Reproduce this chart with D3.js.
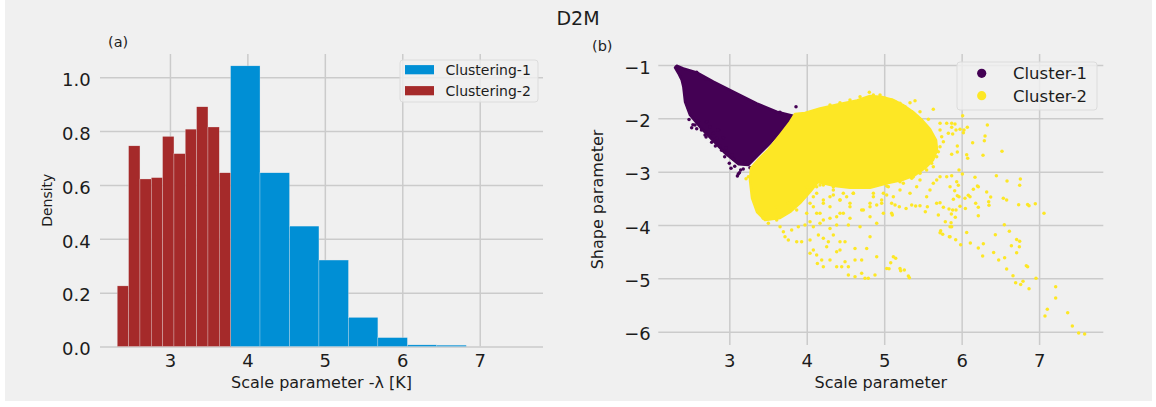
<!DOCTYPE html>
<html>
<head>
<meta charset="utf-8">
<script src="https://cdn.jsdelivr.net/npm/d3@7"></script>
<style>
  body { margin: 0; background: #ffffff; }
  text { font-family: "DejaVu Sans", sans-serif; }
</style>
</head>
<body>
<script>
// ---- Panel (a): histogram of the scale parameter per clustering ----
const clustering2Edges = [2.320, 2.466, 2.613, 2.759, 2.905, 3.052, 3.198, 3.344, 3.491, 3.637, 3.783];
const clustering2Density = [0.225, 0.745, 0.622, 0.627, 0.780, 0.716, 0.807, 0.890, 0.815, 0.645];
const clustering1Edges = [3.783, 4.163, 4.544, 4.924, 5.305, 5.685, 6.066, 6.446, 6.826];
const clustering1Density = [1.042, 0.645, 0.447, 0.321, 0.108, 0.033, 0.006, 0.005];

const scaleTicks = [3, 4, 5, 6, 7];
const densityTicks = [0.0, 0.2, 0.4, 0.6, 0.8, 1.0];
const shapeTicks = [-1, -2, -3, -4, -5, -6];

// ---- Panel (b): scale vs shape parameter, two clusters ----
// dense cores of each cluster (outline of the solid region)
const cluster1Core = [
  [2.320,-1.013],[2.406,-1.063],[2.578,-1.138],[2.794,-1.313],[3.095,-1.531],[3.353,-1.719],
  [3.611,-1.875],[3.835,-1.956],[3.697,-2.188],[3.525,-2.469],[3.353,-2.719],[3.245,-2.875],
  [3.120,-2.860],[2.950,-2.660],[2.790,-2.420],[2.643,-2.200],[2.492,-1.938],[2.428,-1.688],
  [2.406,-1.406],[2.385,-1.281],[2.342,-1.156],[2.299,-1.050]
];
const cluster1Points = [
  [2.557,-2.125],[2.514,-2.175],[2.707,-2.063],[2.750,-2.156],[2.686,-2.313],[2.794,-2.281],
  [2.772,-2.450],[2.837,-2.375],[2.880,-2.513],[2.957,-2.563],[2.974,-2.656],[3.030,-2.688],
  [3.052,-2.763],[3.000,-2.844],[3.146,-2.969],[3.116,-3.044],[3.022,-2.938],[2.664,-1.238],
  [2.699,-1.269],[3.331,-1.738],[3.654,-1.888],[3.861,-1.781],[2.858,-2.219],[2.923,-2.363],
  [3.202,-2.825],[3.267,-2.925],[2.579,-2.194],[3.130,-3.019],[3.104,-3.081],[2.579,-1.137],
  [2.530,-2.120],[2.640,-2.220],[2.700,-2.350],[2.820,-2.520],[2.900,-2.600],[2.940,-2.720],
  [3.070,-2.900],[3.180,-2.950],[2.600,-2.060],[2.480,-2.020]
];
const cluster2Core = [
  [3.848,-1.919],[3.977,-1.900],[4.171,-1.816],[4.429,-1.731],[4.649,-1.666],[4.817,-1.581],
  [4.972,-1.600],[5.114,-1.656],[5.243,-1.750],[5.372,-1.881],[5.488,-2.031],[5.591,-2.200],
  [5.669,-2.406],[5.682,-2.594],[5.630,-2.781],[5.527,-2.931],[5.398,-3.063],[5.230,-3.156],
  [5.049,-3.213],[4.817,-3.300],[4.558,-3.300],[4.365,-3.270],[4.145,-3.194],[4.042,-3.381],
  [3.913,-3.588],[3.784,-3.756],[3.655,-3.869],[3.461,-3.906],[3.358,-3.756],[3.293,-3.494],
  [3.267,-3.156],[3.280,-2.931],[3.371,-2.781],[3.500,-2.594],[3.655,-2.313],[3.784,-2.069]
];
const cluster2Points = [
  [3.439,-3.875],[3.504,-3.969],[3.655,-4.031],[3.698,-4.125],[3.719,-4.219],[3.762,-4.281],
  [3.870,-4.313],[3.934,-4.313],[3.805,-4.094],[3.891,-4.031],[3.977,-4.000],[4.042,-3.938],
  [4.085,-4.031],[4.171,-3.969],[4.214,-3.906],[4.300,-3.875],[4.386,-3.844],[4.472,-3.781],
  [4.558,-3.875],[4.042,-4.281],[4.150,-4.188],[4.214,-4.250],[4.279,-4.313],[4.257,-4.406],
  [4.343,-4.188],[4.429,-4.313],[4.494,-4.313],[4.300,-4.063],[4.386,-4.000],[4.537,-4.000],
  [4.042,-4.531],[4.085,-4.469],[4.128,-4.563],[4.193,-4.656],[4.137,-4.719],[4.214,-4.781],
  [4.300,-4.656],[4.386,-4.500],[4.429,-4.469],[4.494,-4.688],[4.386,-4.781],[4.451,-4.781],
  [4.537,-4.781],[4.623,-4.438],[4.623,-4.656],[4.709,-4.656],[4.774,-4.438],[4.817,-4.219],
  [4.903,-4.594],[5.032,-4.813],[4.537,-4.938],[4.623,-4.969],[4.709,-4.906],[4.752,-5.000],
  [4.795,-5.000],[4.881,-4.938],[4.731,-3.719],[4.817,-3.594],[4.967,-3.594],[4.989,-3.781],
  [4.817,-3.844],[4.688,-4.031],[4.903,-3.969],[4.558,-3.594],[4.300,-3.469],[4.429,-3.531],
  [4.214,-3.594],[4.042,-3.594],[3.977,-3.406],[4.085,-3.469],[4.128,-3.281],[4.214,-3.250],
  [4.343,-3.344],[4.472,-3.406],[4.601,-3.406],[4.731,-3.281],[4.860,-3.469],[4.989,-3.406],
  [5.053,-3.281],[3.870,-3.719],[3.999,-3.781],[4.128,-3.781],[3.762,-3.594],[3.698,-3.781],
  [3.612,-3.906],[3.612,-3.656],[3.216,-3.131],[3.246,-3.094],
  [4.601,-3.406],[4.515,-3.469],[4.429,-3.531],[4.343,-3.438],[4.300,-3.656],[4.214,-3.531],
  [4.128,-3.406],[4.042,-3.344],[4.085,-3.656],[4.171,-3.781],[4.429,-3.781],[4.558,-3.656],
  [4.860,-3.406],[5.032,-3.438],[4.967,-3.531],[4.903,-3.625],[4.817,-3.656],[4.709,-3.719],
  [3.999,-3.281],[4.171,-3.250],[4.343,-3.281],[4.515,-3.269],[4.688,-3.294],[4.860,-3.250],
  [5.032,-3.269],[5.204,-3.188],
  [4.688,-1.594],[4.860,-1.563],[5.010,-1.625],[5.140,-1.688],[5.269,-1.781],[5.355,-1.875],
  [5.419,-1.969],[4.558,-1.656],[4.429,-1.706],[4.300,-1.750],
  [5.721,-2.219],[5.742,-2.344],[5.721,-2.531],[5.678,-2.719],[5.613,-2.844],[5.548,-2.969],
  [5.462,-3.031],[5.355,-3.125],
  [4.808,-1.513],[4.946,-1.563],[5.096,-1.656],[5.204,-1.719],[5.333,-1.706],[5.398,-1.669],
  [5.462,-1.875],[5.570,-2.019],[5.634,-1.831],[5.484,-2.094],[5.721,-2.094],[5.807,-2.094],
  [5.828,-2.281],[5.764,-2.438],[5.699,-2.625],[5.807,-3.094],[5.721,-3.094],[5.634,-3.219],
  [5.591,-3.344],[5.548,-3.469],[5.678,-3.156],[5.462,-3.156],[5.419,-3.281],[5.333,-3.406],
  [5.376,-3.094],[5.247,-3.219],[5.204,-3.344],[5.118,-3.469],[5.634,-2.906],[5.591,-2.781],
  [5.118,-4.594],[5.148,-4.625],[5.084,-4.706],[5.062,-4.819],[5.204,-4.813],[5.213,-4.856],
  [5.260,-4.844],[5.312,-4.956],[5.325,-4.988],[5.789,-3.938],[5.850,-4.031],[5.729,-4.106],
  [5.755,-4.175],[5.721,-4.144],[5.841,-4.219],[5.096,-3.594],[5.140,-3.625],[5.195,-3.656],
  [5.282,-3.688],[5.355,-3.625],[5.406,-3.644],[5.462,-3.638],[5.531,-3.750],[5.557,-3.656],
  [5.677,-3.594],[5.721,-3.581],[5.764,-3.669],[5.837,-3.700],[5.699,-3.813],[5.096,-3.781],
  [5.105,-3.813],
  [6.013,-1.950],[5.871,-2.094],[5.914,-2.106],[5.871,-2.169],[5.927,-2.219],[5.979,-2.206],
  [6.030,-2.219],[6.073,-2.169],[6.022,-2.269],[5.884,-2.294],[6.332,-2.125],[6.302,-2.331],
  [6.293,-2.419],[6.142,-2.456],[5.944,-2.519],[5.944,-2.631],[5.871,-2.675],[6.065,-2.681],
  [6.078,-2.750],[6.276,-2.694],[6.521,-2.619],[5.966,-2.969],[6.009,-3.044],[5.871,-3.075],
  [5.936,-3.188],[5.957,-3.256],[5.850,-3.281],[5.910,-3.356],[5.944,-3.450],[5.966,-3.469],
  [5.893,-3.519],[6.043,-3.500],[6.086,-3.444],[6.108,-3.469],[6.151,-3.331],[6.172,-3.106],
  [6.203,-3.269],[6.215,-3.281],[6.323,-3.381],[6.375,-3.475],[6.349,-3.563],[6.353,-3.631],
  [6.181,-3.594],[6.215,-3.669],[5.979,-3.650],[5.884,-3.719],[5.927,-3.719],[6.048,-3.688],
  [5.867,-3.794],[5.918,-3.856],[6.215,-3.825],[6.448,-3.075],[6.586,-3.175],[6.758,-3.138],
  [6.749,-3.256],[6.538,-3.500],[6.581,-3.531],[6.736,-3.619],[6.852,-3.613],[6.870,-3.638],
  [6.951,-3.600],[7.063,-3.781],[5.863,-3.956],[5.871,-4.031],[5.850,-4.219],[5.923,-4.275],
  [6.065,-4.138],[5.987,-4.369],[6.112,-4.338],[6.215,-4.431],[6.280,-4.350],[6.271,-4.581],
  [6.435,-4.181],[6.413,-4.513],[6.478,-4.656],[6.555,-4.613],[6.581,-4.825],[6.551,-3.994],
  [6.616,-4.119],[6.642,-4.388],[6.710,-4.269],[6.749,-4.306],[6.745,-4.406],[6.710,-4.519],
  [6.835,-4.763],[6.852,-4.781],[6.663,-4.950],[6.697,-5.081],[6.762,-5.113],[6.792,-5.056],
  [6.870,-5.194],[6.960,-5.000],[7.214,-5.156],[7.214,-5.369],[7.106,-5.581],[7.076,-5.706],
  [7.369,-5.644],[7.429,-5.894],[7.511,-6.025],[7.588,-6.044]
];

const colors = {
  clustering1: "#008fd5",
  clustering2: "#a52a2a",
  cluster1: "#440154",
  cluster2: "#fde725",
  grid: "#cbcbcb",
  bg: "#f0f0f0",
  text: "#1c1c1c"
};

const W = 1156, H = 407;
const svg = d3.select("body").append("svg").attr("width", W).attr("height", H);
svg.append("rect").attr("width", W).attr("height", H).attr("fill", "#ffffff");
svg.append("rect").attr("x", 5).attr("y", 0).attr("width", W - 9).attr("height", 401).attr("fill", colors.bg);

// figure title
svg.append("text").attr("x", 578).attr("y", 25).attr("text-anchor", "middle")
  .attr("font-size", 19).attr("fill", colors.text).text("D2M");

// shared axis styling: gridlines from the tick lines, no spines
function styleAxis(g, fontSize) {
  g.select(".domain").remove();
  g.selectAll(".tick line").attr("stroke", colors.grid).attr("stroke-width", 1.5);
  g.selectAll(".tick text").attr("font-size", fontSize).attr("fill", colors.text)
    .attr("font-family", "DejaVu Sans, sans-serif");
}

// ---------------- Panel (a) ----------------
const A = { left: 100, right: 543, top: 54, bottom: 346.5 };
const xA = d3.scaleLinear().domain([2.097, 7.817]).range([A.left, A.right]);
const yA = d3.scaleLinear().domain([0, 1.086]).range([A.bottom, A.top]);

const gA = svg.append("g");
gA.append("g").attr("transform", `translate(0,${A.bottom})`)
  .call(d3.axisBottom(xA).tickValues(scaleTicks).tickFormat(d3.format("d"))
    .tickSize(-(A.bottom - A.top)).tickPadding(7.7))
  .call(g => styleAxis(g, 18));
gA.append("g").attr("transform", `translate(${A.left},0)`)
  .call(d3.axisLeft(yA).tickValues(densityTicks).tickFormat(d3.format(".1f"))
    .tickSize(-(A.right - A.left)).tickPadding(9.3))
  .call(g => styleAxis(g, 18))
  .call(g => g.selectAll(".tick text").attr("dy", "0.46em"));

function bars(edges, dens, color) {
  const bins = dens.map((d, i) => ({ x0: edges[i], x1: edges[i + 1], d }));
  gA.append("g").selectAll("rect").data(bins).join("rect")
    .attr("x", b => xA(b.x0))
    .attr("width", b => xA(b.x1) - xA(b.x0))
    .attr("y", b => yA(b.d))
    .attr("height", b => yA(0) - yA(b.d))
    .attr("fill", color)
    .attr("stroke", colors.bg).attr("stroke-width", 0.4).attr("stroke-opacity", 0.7);
}
bars(clustering1Edges, clustering1Density, colors.clustering1);
bars(clustering2Edges, clustering2Density, colors.clustering2);

gA.append("text").attr("x", 108).attr("y", 47).attr("font-size", 14.5)
  .attr("fill", colors.text).text("(a)");
gA.append("text").attr("x", (A.left + A.right) / 2).attr("y", 388)
  .attr("text-anchor", "middle").attr("font-size", 16).attr("fill", colors.text)
  .text("Scale parameter -λ [K]");
gA.append("text").attr("transform", `translate(52,${(A.top + A.bottom) / 2}) rotate(-90)`)
  .attr("text-anchor", "middle").attr("font-size", 14).attr("fill", colors.text)
  .text("Density");

// legend (a)
const legA = gA.append("g");
legA.append("rect").attr("x", 400).attr("y", 60).attr("width", 138).attr("height", 42)
  .attr("rx", 3).attr("fill", colors.bg).attr("fill-opacity", 0.8)
  .attr("stroke", "#dcdcdc").attr("stroke-width", 1);
[["Clustering-1", colors.clustering1], ["Clustering-2", colors.clustering2]].forEach(([label, c], i) => {
  const cy = 69.7 + i * 21;
  legA.append("rect").attr("x", 405).attr("y", cy - 4.6).attr("width", 29).attr("height", 9.2).attr("fill", c);
  legA.append("text").attr("x", 445.5).attr("y", cy + 5).attr("font-size", 14)
    .attr("fill", colors.text).text(label);
});

// ---------------- Panel (b) ----------------
const B = { left: 658.3, right: 1103.3, top: 54, bottom: 345 };
const xB = d3.scaleLinear().domain([2.083, 7.829]).range([B.left, B.right]);
const yB = d3.scaleLinear().domain([-6.249, -0.794]).range([B.bottom, B.top]);

const gB = svg.append("g");
gB.append("g").attr("transform", `translate(0,${B.bottom})`)
  .call(d3.axisBottom(xB).tickValues(scaleTicks).tickFormat(d3.format("d"))
    .tickSize(-(B.bottom - B.top)).tickPadding(9.2))
  .call(g => styleAxis(g, 18));
gB.append("g").attr("transform", `translate(${B.left},0)`)
  .call(d3.axisLeft(yB).tickValues(shapeTicks).tickFormat(d3.format("d"))
    .tickSize(-(B.right - B.left)).tickPadding(7.6))
  .call(g => styleAxis(g, 18))
  .call(g => g.selectAll(".tick text").attr("dy", "0.46em"));

const outline = d3.line().x(d => xB(d[0])).y(d => yB(d[1])).curve(d3.curveLinearClosed);
function cluster(core, pts, color) {
  const g = gB.append("g");
  g.append("path").attr("d", outline(core)).attr("fill", color)
    .attr("stroke", color).attr("stroke-width", 2.5).attr("stroke-linejoin", "round");
  g.selectAll("circle").data(pts).join("circle")
    .attr("cx", d => xB(d[0])).attr("cy", d => yB(d[1])).attr("r", 1.75).attr("fill", color);
}
cluster(cluster1Core, cluster1Points, colors.cluster1);
cluster(cluster2Core, cluster2Points, colors.cluster2);

gB.append("text").attr("x", 592).attr("y", 51).attr("font-size", 14.5)
  .attr("fill", colors.text).text("(b)");
gB.append("text").attr("x", (B.left + B.right) / 2).attr("y", 388)
  .attr("text-anchor", "middle").attr("font-size", 16).attr("fill", colors.text)
  .text("Scale parameter");
gB.append("text").attr("transform", `translate(603,${(B.top + B.bottom) / 2}) rotate(-90)`)
  .attr("text-anchor", "middle").attr("font-size", 16).attr("fill", colors.text)
  .text("Shape parameter");

// legend (b)
const legB = gB.append("g");
legB.append("rect").attr("x", 957).attr("y", 62).attr("width", 140).attr("height", 48)
  .attr("rx", 3).attr("fill", colors.bg).attr("fill-opacity", 0.8)
  .attr("stroke", "#dcdcdc").attr("stroke-width", 1);
[["Cluster-1", colors.cluster1], ["Cluster-2", colors.cluster2]].forEach(([label, c], i) => {
  const cy = 73.3 + i * 22.4;
  legB.append("circle").attr("cx", 981.7).attr("cy", cy).attr("r", 4.6).attr("fill", c);
  legB.append("text").attr("x", 1013).attr("y", cy + 6).attr("font-size", 16.5)
    .attr("fill", colors.text).text(label);
});
</script>
</body>
</html>
